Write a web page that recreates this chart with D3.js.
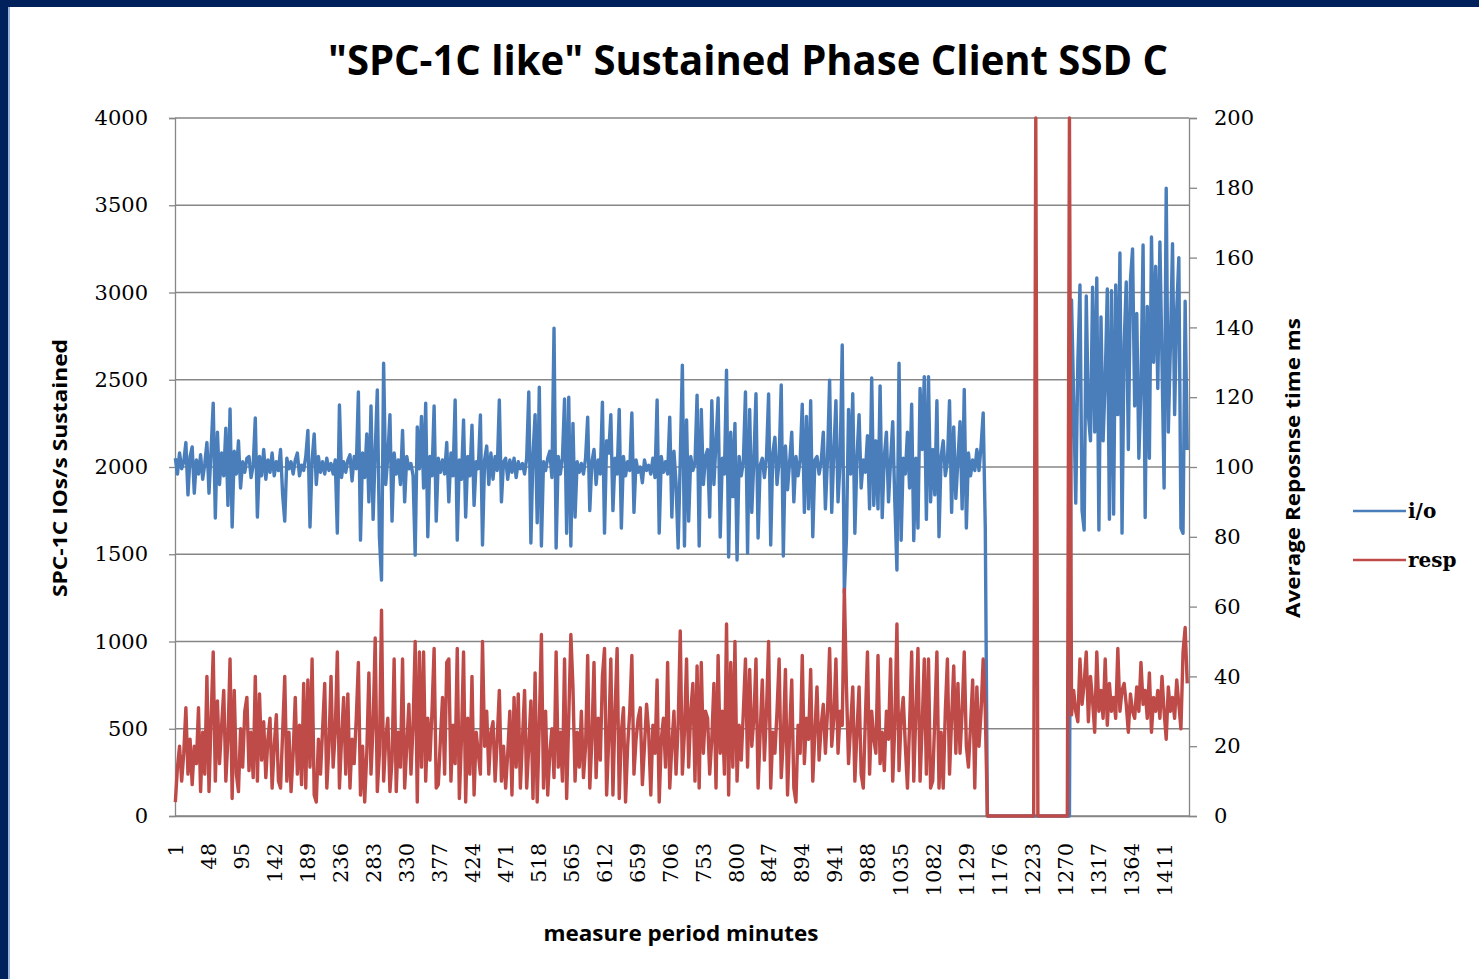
<!DOCTYPE html>
<html><head><meta charset="utf-8">
<script src="https://cdn.jsdelivr.net/npm/d3@7"></script>
<style>
html,body{margin:0;padding:0;background:#00215c;}
svg{display:block;}
</style></head>
<body>
<svg id="c" width="1479" height="979"></svg>
<script>
// ---- data (one point every 3 minutes) ----
const minutes = d3.range(1, 1445, 3);
const xTickLabels = [1,48,95,142,189,236,283,330,377,424,471,518,565,612,659,706,753,800,847,894,941,988,1035,1082,1129,1176,1223,1270,1317,1364,1411];
const leftTicks = [0,500,1000,1500,2000,2500,3000,3500,4000];
const rightTicks = [0,20,40,60,80,100,120,140,160,180,200];
const seriesNames = ["i/o","resp"];

const io = [
2050,1960,2080,1990,2030,2140,1840,2060,2115,1850,
2040,1960,2070,1930,2020,2140,1850,2100,2366,1708,
2199,1900,2080,1950,2223,1780,2332,1656,2090,1960,
2150,1880,2030,1970,2050,2060,1940,2010,2281,1713,
2060,1950,2100,1930,2040,1970,2080,1950,2030,1980,
2100,1840,1690,2050,1990,2030,1960,2040,2080,1950,
2010,1980,2060,2210,1656,2040,2190,1900,2060,1970,
2030,1960,2050,1980,2020,1960,2040,1621,2355,1940,
2030,1970,2040,2070,1920,2060,1990,2430,1581,2080,
1940,2190,1800,2350,1700,2090,2441,1600,1352,2595,
1900,2060,2300,1690,2080,1960,2040,1900,2210,1800,
2060,1990,2020,1950,1495,2230,1990,2290,1880,2366,
1600,2060,1950,2350,1690,2050,1970,2040,1960,2140,
1800,2080,1950,2384,1581,2040,1930,2270,1713,2060,
1950,2240,1780,2030,1990,2298,1553,2040,2120,1900,
2080,1930,2060,1980,2384,1800,2030,2050,1930,2040,
1970,2050,1940,2030,1990,2020,1960,2050,2430,1564,
2070,2300,1680,2458,1547,2030,1980,2050,2090,1940,
2796,1536,2060,1960,2050,2390,1620,2400,1547,2250,
1713,2030,1970,2020,1960,2050,2286,1750,2030,2100,
1900,2040,1960,2372,1621,2150,2080,2300,1750,2050,
1960,2330,1650,2060,1950,2030,1980,2310,1740,2040,
1970,2000,1910,2040,1980,2010,1960,2050,1940,2384,
1621,2060,1970,2030,1960,2286,1713,2090,1910,1536,
2040,2584,1547,2270,1690,2060,1980,2020,2412,1547,
2330,1900,2060,2100,1713,2380,1900,2143,2395,1599,
2050,1960,2555,1484,2200,1830,2250,1467,2060,1950,
2030,2430,1507,2330,1740,2040,2420,1593,2010,2050,
1940,2060,2418,1553,2080,2170,1900,2040,2470,1490,
2120,1870,2030,2200,1800,2060,1950,2040,2360,1740,
2290,1760,2380,1600,2040,2060,1960,2030,2200,1760,
2050,2498,1740,2080,2380,1800,2040,2699,1278,1590,
2330,1960,2420,1620,2050,2300,1880,2040,1970,2180,
1760,2510,1780,2150,1760,2465,1710,2060,2200,1800,
2040,2260,1800,1410,2595,1580,2050,1960,2200,1880,
2360,1578,2050,1650,2450,2100,2518,1700,2518,1800,
2100,1840,2380,1600,2060,2150,1950,2030,2380,1740,
2230,1820,2040,2260,1760,2445,1650,2080,1950,2040,
1980,2100,1980,2120,2310,1650,0,
0,0,0,0,0,0,0,0,0,0,0,0,0,0,0,0,0,0,0,0,
0,0,0,0,0,0,0,0,0,0,0,0,0,0,0,0,0,0,0,
2957,2400,1793,2600,3043,1750,1639,2980,2300,2150,
3030,2200,3083,1639,2860,2150,2500,3020,1700,3010,
1730,3043,2300,3226,1621,2700,3060,2100,3070,3250,
2350,2880,2050,2450,3272,1710,2920,2050,3318,2600,
3150,2450,3290,2600,1880,3597,2200,2700,3280,2300,
2900,3200,1650,1620,2950,2097
];

const resp = [
4,14,20,10,18,31,12,22,9,20,
15,31,7,24,12,40,7,28,47,10,
33,15,26,36,10,22,45,5,36,12,
7,25,14,30,34,13,24,11,40,10,
35,16,27,11,22,28,8,20,29,10,
8,24,40,10,24,7,18,34,12,26,
9,38,8,39,14,45,6,4,22,12,
25,38,8,20,40,14,24,47,8,22,
34,12,35,8,22,15,28,44,6,20,
4,18,41,12,26,51,7,18,59,10,
22,28,7,16,45,7,24,14,45,8,
20,32,12,26,50,4,47,14,47,10,
28,16,30,48,8,9,22,34,12,44,
45,10,26,15,48,5,22,47,4,28,
12,40,6,24,18,12,50,20,30,12,
24,27,10,22,36,10,20,8,18,30,
6,34,14,35,8,22,36,8,20,33,
5,41,4,26,52,8,30,6,18,25,
11,47,14,24,10,45,5,28,52,37,
10,24,14,30,11,20,46,8,22,44,
11,28,16,40,48,6,22,45,6,30,
48,5,24,31,4,20,30,46,12,22,
28,31,9,20,32,24,6,26,18,39,
4,22,28,14,44,8,20,30,12,26,
53,12,24,45,14,30,38,10,43,8,
44,18,30,28,12,22,38,8,46,18,
30,12,55,6,44,14,50,10,26,16,
30,45,14,42,20,28,45,8,24,39,
16,30,50,8,24,18,30,45,11,22,
42,6,24,39,8,4,26,18,46,15,
28,22,42,10,24,37,16,26,32,18,
30,48,20,28,45,18,30,26,65,37,
15,26,37,10,24,37,12,8,28,47,
12,30,22,18,46,15,24,13,30,22,
45,10,26,55,13,28,34,20,8,26,
47,10,30,48,10,26,45,12,45,8,
10,28,47,8,24,8,30,45,12,28,
43,18,38,18,30,47,20,14,26,39,
8,37,20,30,45,30,0,
0,0,0,0,0,0,0,0,0,0,0,0,0,0,0,0,0,0,0,0,0,0,
200,
0,0,0,0,0,0,0,0,0,0,0,0,0,0,0,
200,
29,36,30,27,45,32,38,47,27,40,
33,24,47,30,36,28,45,26,38,30,
34,28,48,30,36,38,32,24,35,30,
28,37,30,44,32,36,28,41,24,34,
30,36,28,40,30,22,37,30,34,28,
39,32,25,47,54,38
];

// ---- drawing ----
const svg = d3.select("#c");
const W = 1479, H = 979;
const L = 175, R = 1189, T = 118, B = 816;
const blue = "#4a7ebb", red = "#be4b48";

svg.append("rect").attr("x",0).attr("y",0).attr("width",W).attr("height",H).attr("fill","#00215c");
svg.append("rect").attr("x",8).attr("y",7).attr("width",W-8).attr("height",H-7).attr("fill","#ffffff");
svg.append("line").attr("x1",9).attr("x2",9).attr("y1",7).attr("y2",H).attr("stroke","#5b7fc0").attr("stroke-width",1.2);

const x = d3.scaleLinear().domain([0.5, 1446.5]).range([L, R]);
const yL = d3.scaleLinear().domain([0, 4000]).range([B, T]);
const yR = d3.scaleLinear().domain([0, 200]).range([B, T]);

// gridlines
svg.append("g").selectAll("line").data(leftTicks).join("line")
  .attr("x1", L).attr("x2", R)
  .attr("y1", d => yL(d)).attr("y2", d => yL(d))
  .attr("stroke", "#868686").attr("stroke-width", 1.3);

const serif = "'DejaVu Serif', serif";
const sans = "'Open Sans', 'Noto Sans', sans-serif";

// left axis
const gL = svg.append("g").attr("transform", `translate(${L},0)`)
  .call(d3.axisLeft(yL).tickValues(leftTicks).tickSize(6).tickPadding(21).tickFormat(d3.format("d")));
gL.select(".domain").attr("stroke", "#868686").attr("stroke-width", 1.3);
gL.selectAll(".tick line").attr("stroke", "#868686").attr("stroke-width", 1.3);
gL.selectAll("text").attr("font-family", serif).attr("font-size", 21).attr("fill", "#000");

// right axis
const gR = svg.append("g").attr("transform", `translate(${R},0)`)
  .call(d3.axisRight(yR).tickValues(rightTicks).tickSize(8).tickPadding(17).tickFormat(d3.format("d")));
gR.select(".domain").attr("stroke", "#868686").attr("stroke-width", 1.3);
gR.selectAll(".tick line").attr("stroke", "#868686").attr("stroke-width", 1.3);
gR.selectAll("text").attr("font-family", serif).attr("font-size", 21).attr("fill", "#000");

// bottom axis
const gB = svg.append("g").attr("transform", `translate(0,${B})`)
  .call(d3.axisBottom(x).tickValues(xTickLabels).tickSize(0).tickPadding(0).tickFormat(d3.format("d")));
gB.select(".domain").attr("stroke", "#868686").attr("stroke-width", 1.3);
gB.selectAll(".tick text")
  .attr("font-family", serif).attr("font-size", 21).attr("fill", "#000")
  .attr("text-anchor", "end").attr("dy", "0.35em")
  .attr("transform", "translate(0,27) rotate(-90)")
  .attr("x", 0).attr("y", 0);

// lines
const lineIO = d3.line().x((d,i) => x(minutes[i])).y(d => yL(d));
const lineResp = d3.line().x((d,i) => x(minutes[i])).y(d => yR(d));
const n = Math.min(minutes.length, io.length, resp.length);
svg.append("path").datum(io.slice(0,n)).attr("d", lineIO)
  .attr("fill","none").attr("stroke",blue).attr("stroke-width",3.4).attr("stroke-linejoin","round");
svg.append("path").datum(resp.slice(0,n)).attr("d", lineResp)
  .attr("fill","none").attr("stroke",red).attr("stroke-width",3.4).attr("stroke-linejoin","round");

// title
svg.append("text").attr("x", 748).attr("y", 75).attr("text-anchor","middle")
  .attr("font-family", sans).attr("font-weight", "bold").attr("font-size", 41)
  .attr("textLength", 840).attr("lengthAdjust","spacingAndGlyphs")
  .text('"SPC-1C like"  Sustained Phase Client SSD C');

// axis titles
svg.append("text").attr("transform","translate(67,468) rotate(-90)").attr("text-anchor","middle")
  .attr("font-family", sans).attr("font-weight","bold").attr("font-size",20)
  .attr("textLength", 258).attr("lengthAdjust","spacingAndGlyphs")
  .text("SPC-1C IOs/s Sustained");
svg.append("text").attr("transform","translate(1300,468) rotate(-90)").attr("text-anchor","middle")
  .attr("font-family", sans).attr("font-weight","bold").attr("font-size",20)
  .attr("textLength", 300).attr("lengthAdjust","spacingAndGlyphs")
  .text("Average Reposnse time ms");
svg.append("text").attr("x", 681).attr("y", 941).attr("text-anchor","middle")
  .attr("font-family", sans).attr("font-weight","bold").attr("font-size",21)
  .attr("textLength", 275).attr("lengthAdjust","spacingAndGlyphs")
  .text("measure period minutes");

// legend
const legY = [511, 560];
const legColors = [blue, red];
const lg = svg.append("g");
seriesNames.forEach((s, k) => {
  lg.append("line").attr("x1",1353).attr("x2",1406).attr("y1",legY[k]).attr("y2",legY[k])
    .attr("stroke",legColors[k]).attr("stroke-width",2.6);
  lg.append("text").attr("x",1408).attr("y",legY[k]).attr("dy","0.35em")
    .attr("font-family", serif).attr("font-weight","bold").attr("font-size",20).attr("fill","#000")
    .text(s);
});
</script>
</body></html>
